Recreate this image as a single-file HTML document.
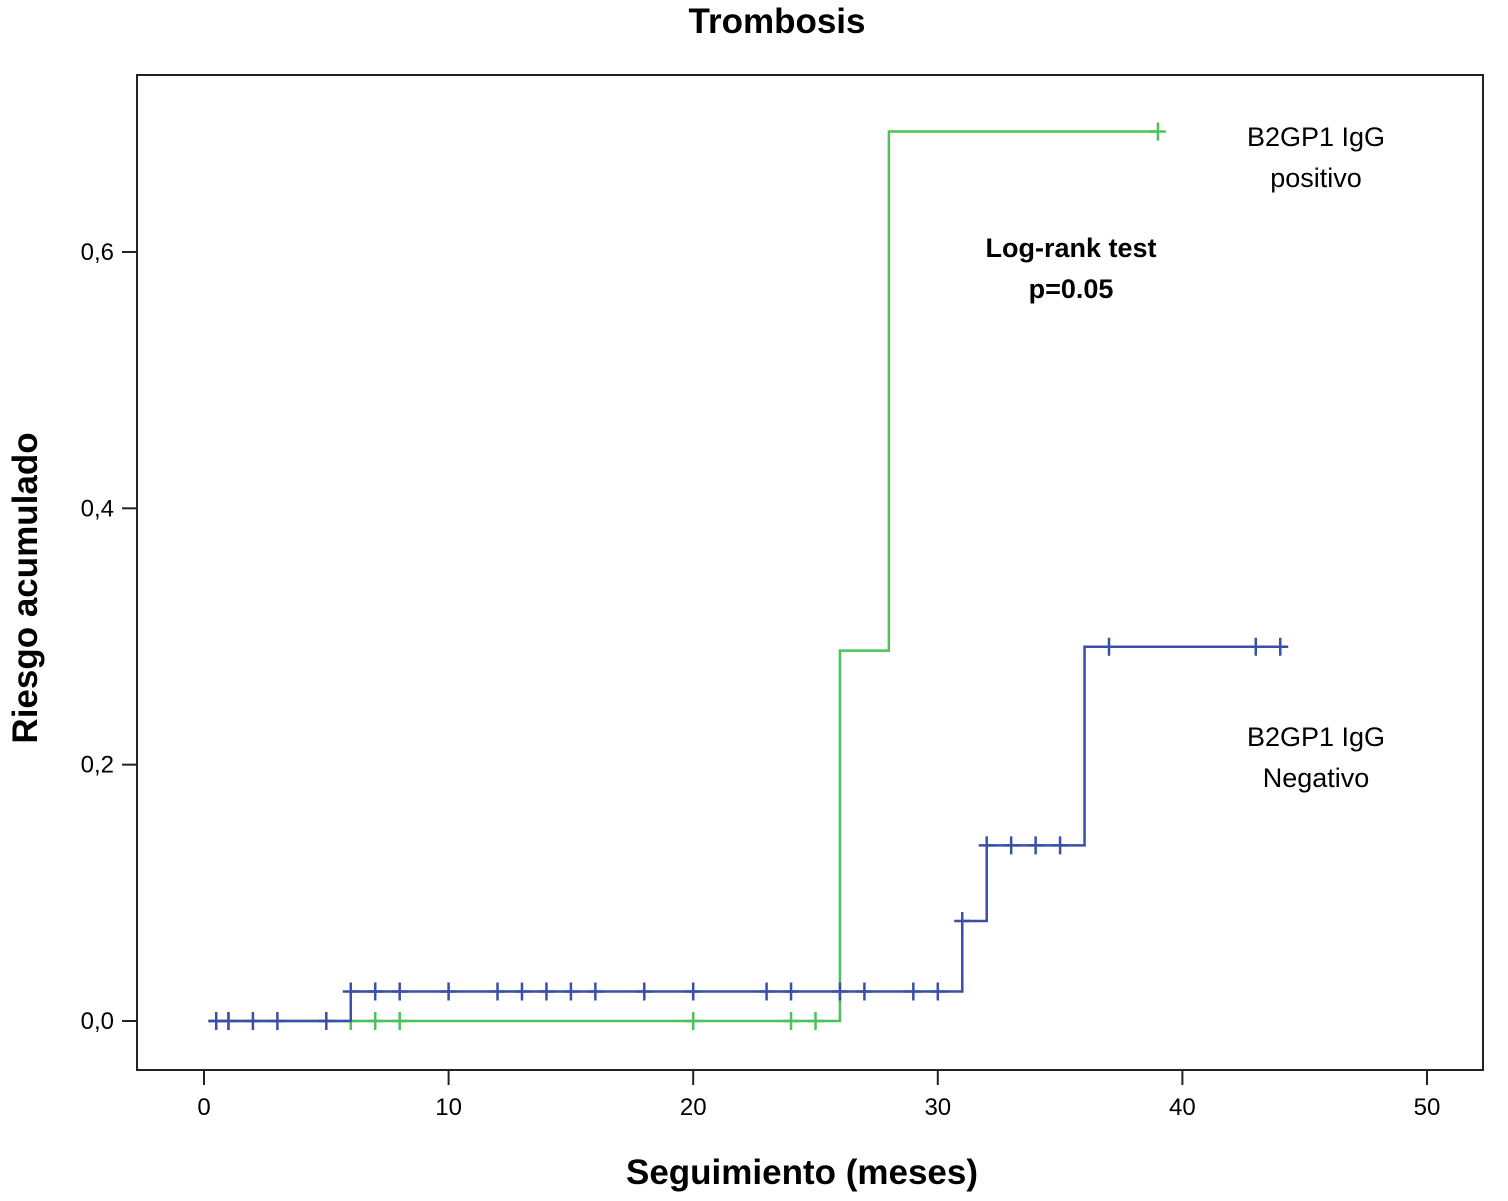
<!DOCTYPE html>
<html><head><meta charset="utf-8"><style>
body{margin:0;background:#fff;}
svg text{font-family:"Liberation Sans",sans-serif;}
</style></head><body>
<svg id="chart" width="1508" height="1196" xmlns="http://www.w3.org/2000/svg">
<text x="777" y="33" text-anchor="middle" font-size="35" font-weight="bold">Trombosis</text>
<rect x="137" y="75" width="1346" height="995" fill="none" stroke="#222" stroke-width="2"/>
<text transform="translate(37,588) rotate(-90)" text-anchor="middle" font-size="35" font-weight="bold">Riesgo acumulado</text>
<text x="802" y="1184" text-anchor="middle" font-size="35" font-weight="bold">Seguimiento (meses)</text>
<text x="1071" y="257" text-anchor="middle" font-size="27" font-weight="bold">Log-rank test</text>
<text x="1071" y="298" text-anchor="middle" font-size="27" font-weight="bold">p=0.05</text>
<text x="1316" y="146" text-anchor="middle" font-size="27">B2GP1 IgG</text>
<text x="1316" y="187" text-anchor="middle" font-size="27">positivo</text>
<text x="1316" y="746" text-anchor="middle" font-size="27">B2GP1 IgG</text>
<text x="1316" y="787" text-anchor="middle" font-size="27">Negativo</text>
<g id="axes"></g><g id="series"></g>
</svg>
<script>
const xTicks=[0,10,20,30,40,50];
const yTicks=[0,0.2,0.4,0.6];
const yTickLabels=["0,0","0,2","0,4","0,6"];
const greenStart=0.2, greenEnd=39;
const greenEventTimes=[26,28];
const greenEventValues=[0.289,0.694];
const greenCensorTimes=[1,6,7,8,20,24,25,39];
const blueStart=0.2, blueEnd=44;
const blueEventTimes=[6,31,32,36];
const blueEventValues=[0.023,0.078,0.137,0.292];
const blueCensorTimes=[0.5,1,2,3,5,6,7,8,10,12,13,14,15,16,18,20,23,24,26,27,29,30,31,32,33,34,35,37,43,44];

const NS="http://www.w3.org/2000/svg";
const X=v=>204+v*24.46;
const Y=v=>1021-v*1281.7;
const axes=document.getElementById('axes'), ser=document.getElementById('series');
function mk(tag,attrs,parent){const e=document.createElementNS(NS,tag);for(const k in attrs)e.setAttribute(k,attrs[k]);parent.appendChild(e);return e;}
xTicks.forEach(t=>{
  const l=mk('line',{x1:X(t),x2:X(t),y1:1070,y2:1085,stroke:'#222','stroke-width':2},axes);
  
  
  const tx=mk('text',{x:X(t),y:1115,'text-anchor':'middle','font-size':24},axes);
  tx.textContent=t;
  
  
});
yTicks.forEach((t,i)=>{
  const l=mk('line',{x1:122,x2:137,y1:Y(t),y2:Y(t),stroke:'#222','stroke-width':2},axes);
  
  
  const tx=mk('text',{x:114,y:Y(t)+8,'text-anchor':'end','font-size':24},axes);
  tx.textContent=yTickLabels[i];
  
  
});
function valAt(t,times,vals){let v=0;times.forEach((tt,i)=>{if(t>=tt)v=vals[i];});return v;}
function draw(start,end,times,vals,censor,color,name){
  let d=`M${X(start)},${Y(0)}`;
  times.forEach((t,i)=>{d+=` H${X(t)} V${Y(vals[i])}`;});
  d+=` H${X(end)}`;
  const p=mk('path',{d:d,fill:'none',stroke:color,'stroke-width':2.5},ser);
  
  
  censor.forEach(t=>{
    const y=Y(valAt(t,times,vals));
    const c=mk('path',{d:`M${X(t)-8},${y} H${X(t)+8} M${X(t)},${y-9} V${y+9}`,stroke:color,'stroke-width':2.5},ser);
    
    
  });
}
draw(greenStart,greenEnd,greenEventTimes,greenEventValues,greenCensorTimes,'#4cc35a','positivo');
draw(blueStart,blueEnd,blueEventTimes,blueEventValues,blueCensorTimes,'#3a4fa8','negativo');
</script>
</body></html>
